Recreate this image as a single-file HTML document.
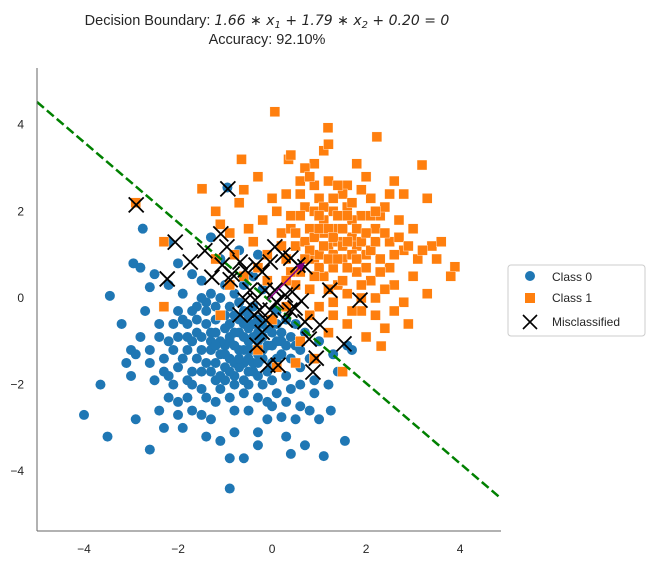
<!DOCTYPE html>
<html><head><meta charset="utf-8"><style>
body{margin:0;background:#fff;font-family:"Liberation Sans",sans-serif}
svg text{font-family:"Liberation Sans",sans-serif;fill:#262626}
</style></head><body>
<svg id="chart" width="646" height="565" xmlns="http://www.w3.org/2000/svg">
<text x="267" y="25" text-anchor="middle" font-size="14.5">Decision Boundary: <tspan font-family="DejaVu Sans" font-style="italic" font-size="14">1.66 ∗ x</tspan><tspan font-family="DejaVu Sans" font-size="10" dy="3" font-style="italic">1</tspan><tspan font-family="DejaVu Sans" font-size="14" dy="-3" font-style="italic"> + 1.79 ∗ x</tspan><tspan font-family="DejaVu Sans" font-size="10" dy="3" font-style="italic">2</tspan><tspan font-family="DejaVu Sans" font-size="14" dy="-3" font-style="italic"> + 0.20 = 0</tspan></text>
<text x="267" y="44" text-anchor="middle" font-size="14.5">Accuracy: 92.10%</text>
<g id="plot"></g>
<line x1="37" y1="68" x2="37" y2="531" stroke="#666" stroke-width="1"/>
<line x1="37" y1="531" x2="501" y2="531" stroke="#666" stroke-width="1"/>
<g id="ticks"></g>
<g>
<rect x="508" y="265" width="137" height="71" rx="3" fill="#fff" stroke="#ccc"/>
<circle cx="530" cy="276" r="5" fill="#1f77b4"/>
<text x="552" y="281" font-size="12">Class 0</text>
<rect x="525" y="293" width="10" height="10" fill="#ff7f0e"/>
<text x="552" y="302" font-size="12">Class 1</text>
<path d="M523,315 L537,329 M537,315 L523,329" stroke="#000" stroke-width="1.6"/>
<text x="552" y="326" font-size="12">Misclassified</text>
</g>
</svg>
<script>
const xTicks=[-4,-2,0,2,4];
const yTicks=[-4,-2,0,2,4];
const weights=[1.66,1.79];
const bias=0.20;
const class0=[[-4,-2.7],[-3.5,-3.2],[-0.9,-4.4],[-3.45,0.05],[-3.65,-2.0],[-2.75,1.6],[1.55,-3.3],[1.1,-3.65],[1.25,-2.6],[-2.95,0.8],[-2.8,0.7],[-2.5,0.55],[-2.6,0.25],[-3.2,-0.6],[-3.1,-1.5],[-3.0,-1.8],[-2.9,-2.8],[-2.6,-3.5],[-2.4,-2.6],[-2.0,-2.7],[-1.4,-3.2],[-1.1,-3.3],[-0.8,-3.1],[-0.3,-3.1],[-0.1,-2.8],[0.2,-2.75],[0.5,-2.8],[0.8,-2.6],[1.0,-2.8],[-0.6,-3.7],[-0.3,-3.4],[0.3,-3.2],[0.7,-3.4],[0.4,-3.6],[-1.8,-2.3],[-1.5,-2.7],[-0.9,-3.7],[-2.3,-1.4],[-2.2,-1.0],[-2.4,-0.6],[-2.0,-0.3],[-2.2,0.3],[-1.9,0.1],[-1.7,0.55],[-1.5,0.4],[-1.3,0.1],[-1.0,0.3],[-0.8,0.1],[-1.4,-0.3],[-1.2,-0.5],[-1.0,-0.7],[-0.8,-0.4],[-0.6,-0.6],[-0.4,-0.2],[-0.2,-0.6],[0.0,-0.8],[0.2,-1.0],[0.4,-0.9],[0.6,-1.2],[0.8,-1.4],[1.0,-1.0],[1.3,-1.3],[1.6,-1.1],[1.2,-2.0],[0.9,-1.9],[0.6,-2.0],[0.3,-1.8],[0.0,-1.5],[-0.3,-1.3],[-0.5,-1.0],[-0.7,-1.2],[-0.9,-1.0],[-1.1,-1.3],[-1.3,-1.0],[-1.6,-0.8],[-1.8,-1.2],[-2.0,-1.6],[-1.7,-1.7],[-1.4,-1.5],[-1.2,-1.9],[-1.0,-1.6],[-0.8,-1.8],[-0.6,-1.5],[-0.4,-1.7],[-0.2,-2.0],[0.1,-2.2],[-0.3,-2.3],[-0.6,-2.2],[-0.9,-2.3],[-1.2,-2.4],[-1.5,-2.1],[-1.7,-2.0],[-2.1,-2.0],[-2.5,-1.9],[-2.6,-1.2],[-2.8,-0.9],[-2.7,-0.3],[-1.9,-0.5],[-1.6,-0.2],[-1.1,0.0],[-0.6,0.3],[-0.4,0.5],[-0.2,0.2],[0.1,-0.3],[0.3,-0.5],[0.5,-0.6],[0.7,-0.8],[-0.1,-1.1],[-0.5,-0.4],[-0.7,-0.8],[-1.0,-1.1],[-1.5,-1.2],[-2.2,-2.3],[-0.5,-2.6],[0.0,-2.5],[-1.3,-2.8],[-1.9,-3.0],[-2.3,-3.0],[0.6,-2.5],[0.9,-2.2],[1.4,-1.7],[1.7,-1.2],[-0.95,2.55],[-0.7,1.1],[-1.3,1.4],[-2.2,1.3],[-1.1,0.9],[-0.3,1.0],[-1.8,-0.9],[-1.2,-0.2],[-0.7,-0.1],[-0.3,-0.8],[-0.9,-1.4],[-1.4,-0.6],[-0.4,-1.2],[-1.1,-1.8],[-0.5,-2.0],[0.2,-1.3],[-2.4,-0.9],[-3.0,-1.2],[-2.9,-1.3],[-2.0,0.8],[-1.5,-0.9],[-0.8,-2.6],[0.3,-2.4],[-1.7,-2.6],[-2.0,-2.4],
[-1.8,-0.6],[-1.7,-1.0],[-1.6,-1.4],[-1.5,-1.7],[-1.3,-1.2],[-1.3,-0.8],[-1.2,-1.5],[-1.1,-1.0],[-1.0,-0.4],[-1.0,-1.9],[-0.9,-0.6],[-0.9,-0.9],[-0.8,-1.1],[-0.8,-1.5],[-0.7,-0.5],[-0.7,-1.6],[-0.6,-0.9],[-0.6,-1.2],[-0.6,-1.9],[-0.5,-0.7],[-0.5,-1.4],[-0.4,-0.9],[-0.4,-1.5],[-0.3,-0.5],[-0.3,-1.0],[-0.3,-1.8],[-0.2,-0.9],[-0.2,-1.4],[-0.1,-0.7],[-0.1,-1.7],[0.0,-1.1],[0.0,-1.9],[0.1,-0.6],[0.1,-1.4],[0.2,-0.8],[0.3,-1.1],[0.4,-1.4],[-1.9,-1.4],[-2.1,-1.2],[-2.3,-1.7],[-2.1,-0.6],[-1.8,-1.9],[-1.4,-2.3],[-1.1,-2.1],[-0.8,-2.0],[-0.5,-1.7],[-1.6,-0.5],[-1.4,-0.1],[-1.2,-0.8],[-1.2,-1.1],[-1.0,-1.3],[-0.9,-0.2],[-0.8,-0.8],[-0.7,-1.4],[-0.6,-0.3],[-0.5,-1.2],[-0.4,-0.6],[-0.2,-1.2],[-1.5,0.0],[-1.7,-0.3],[-2.0,-0.9],[-1.3,-1.7],[-0.9,-1.7],[-0.3,-1.5],[0.1,-1.0],[0.5,-1.1],[0.6,-1.6],[-2.2,-1.8],[-2.6,-1.5],[-0.1,-2.4],[0.4,-2.1]];
const class1=[[0.06,4.3],[1.19,3.93],[2.23,3.72],[3.19,3.07],[3.89,0.72],[3.8,0.5],[-1.49,2.52],[2.32,-1.11],[-1.2,2.0],[-0.6,2.5],[-0.7,2.2],[-0.65,3.2],[-0.3,2.8],[0.35,3.2],[0.4,3.3],[1.1,3.4],[1.2,3.55],[0.9,3.1],[1.8,3.1],[2.6,2.7],[2.8,2.4],[3.3,2.3],[2.0,2.8],[1.6,2.6],[0.6,2.7],[0.0,2.3],[-0.2,1.8],[-0.4,1.3],[0.2,1.5],[0.4,1.9],[0.7,2.1],[1.0,2.3],[1.3,2.0],[1.6,2.1],[1.9,1.9],[2.2,1.6],[2.5,1.3],[2.8,1.1],[3.1,0.9],[3.4,1.2],[3.6,1.3],[3.5,0.9],[3.0,0.5],[2.6,0.3],[2.2,0.0],[1.9,-0.3],[1.6,-0.6],[2.0,-0.9],[2.4,-0.7],[2.9,-0.6],[2.5,0.7],[2.0,1.0],[1.7,1.4],[1.4,1.6],[1.1,1.8],[0.8,1.6],[0.5,1.2],[0.3,0.9],[0.6,0.6],[0.9,0.9],[1.2,1.2],[1.5,0.9],[1.8,0.6],[1.4,0.3],[1.1,0.5],[0.8,0.2],[1.0,-0.2],[1.3,-0.4],[1.6,0.1],[2.1,0.4],[2.3,1.9],[2.7,1.8],[3.0,1.6],[0.1,2.0],[-0.1,1.0],[0.7,1.3],[1.0,1.0],[1.3,0.7],[1.7,1.8],[2.1,2.3],[1.5,2.4],[0.9,2.6],[0.3,2.4],[-0.5,1.6],[-1.1,1.7],[-0.9,1.5],[1.9,2.5],[2.4,2.1],[0.5,0.3],[0.8,-0.4],[1.2,-0.8],[0.6,-1.0],[0.9,-1.4],[1.5,-1.7],[0.3,-0.2],[-0.1,0.4],[-0.3,0.7],[-0.8,1.0],[-1.2,0.9],[-2.3,1.3],[-2.9,2.2],[-2.3,-0.2],[2.8,-0.1],[3.3,0.1],[2.2,-0.4],[1.7,-0.3],[1.9,0.3],[1.2,2.7],[0.7,3.0],[1.4,1.3],[1.1,1.5],[0.4,1.6],[2.6,1.0],[2.3,0.9],[3.2,1.1],[1.8,1.2],[1.3,1.0],[0.2,1.2],[-0.6,0.5],[-0.9,0.3],[-1.1,-0.4],[0.0,-0.5],[0.5,-1.5],[0.1,-1.6],[-0.3,-1.2],
[0.5,1.5],[0.6,1.9],[0.8,1.1],[0.9,1.4],[0.9,2.0],[1.0,0.7],[1.0,1.6],[1.1,1.2],[1.1,2.1],[1.2,0.9],[1.2,1.6],[1.3,1.4],[1.3,2.3],[1.4,0.9],[1.4,1.9],[1.5,1.2],[1.5,1.6],[1.6,0.7],[1.6,1.3],[1.7,1.0],[1.7,2.2],[1.8,0.9],[1.8,1.6],[1.9,1.3],[2.0,0.7],[2.0,1.5],[2.1,1.1],[2.1,1.9],[2.2,1.3],[2.3,0.6],[2.4,1.5],[2.4,0.2],[2.7,1.4],[2.9,1.2],[0.7,0.9],[0.4,0.6],[0.6,2.4],[0.8,2.8],[1.4,2.6],[2.5,2.4],[1.2,0.2],[1.5,0.4],[1.9,0.0],[2.6,-0.3],[0.3,0.4],[0.9,0.5],[1.0,1.9],[1.6,1.9],[2.2,2.0],[1.3,-0.1]];
const misclassified=[[-2.89,2.15],[-0.94,2.52],[-2.06,1.29],[-1.74,0.83],[-2.23,0.44],[-1.09,1.48],[-1.43,1.09],[-0.96,1.18],[-1.06,0.76],[-1.28,0.48],[-0.85,0.55],[-0.68,0.83],[-0.89,0.42],[-0.57,0.65],[-0.34,0.76],[-0.21,0.6],[0.06,1.18],[0.23,0.99],[0.4,0.92],[0.55,0.76],[0.7,0.72],[-0.04,0.83],[-0.15,0.18],[0.06,0.18],[0.28,0.07],[0.43,0.14],[0.62,-0.07],[0.49,-0.23],[0.09,-0.09],[-0.26,-0.28],[-0.13,-0.51],[-0.38,-0.39],[-0.21,-0.79],[-0.32,-1.09],[-0.09,-1.55],[0.13,-1.55],[0.38,-0.28],[0.7,-0.55],[1.02,-0.62],[0.79,-0.95],[1.23,0.18],[1.87,-0.05],[1.53,-1.06],[0.94,-1.39],[0.87,-1.71],[-0.57,-0.05],[-0.68,-0.39],[-0.47,0.18],[0.28,-0.51],[-0.04,-0.28],[-0.36,-0.05]];
const arrowStart=[-0.09,-0.05];
const arrowEnd=[0.7,0.83];
const xDomain=[-5,4.87],yDomain=[-5.38,5.31];
const X=v=>37+(v-xDomain[0])/(xDomain[1]-xDomain[0])*464;
const Y=v=>531-(v-yDomain[0])/(yDomain[1]-yDomain[0])*463;
const NS="http://www.w3.org/2000/svg";
const plot=document.getElementById('plot');
function mk(tag,attrs,parent){const e=document.createElementNS(NS,tag);for(const k in attrs)e.setAttribute(k,attrs[k]);(parent||plot).appendChild(e);return e;}
class0.forEach(p=>{const c=mk('circle',{cx:X(p[0]),cy:Y(p[1]),r:5,fill:'#1f77b4'});

});
class1.forEach(p=>{const r=mk('rect',{x:X(p[0])-5,y:Y(p[1])-5,width:10,height:10,fill:'#ff7f0e',stroke:'#fff','stroke-width':0.4});

});
const lineY=x=>-(weights[0]*x+bias)/weights[1];
const bl=mk('line',{x1:X(xDomain[0]),y1:Y(lineY(xDomain[0])),x2:X(xDomain[1]),y2:Y(lineY(xDomain[1])),stroke:'#008000','stroke-width':2.5,'stroke-dasharray':'9,4'});


misclassified.forEach(p=>{const x=X(p[0]),y=Y(p[1]);const m=mk('path',{d:`M${x-7.5},${y-7.5}L${x+7.5},${y+7.5}M${x+7.5},${y-7.5}L${x-7.5},${y+7.5}`,stroke:'#000','stroke-width':1.8});

});
const ax=X(arrowStart[0]),ay=Y(arrowStart[1]),bx=X(arrowEnd[0]),by=Y(arrowEnd[1]);
const ang=Math.atan2(by-ay,bx-ax);
const ar=mk('g',{});


mk('line',{x1:ax,y1:ay,x2:bx-7*Math.cos(ang),y2:by-7*Math.sin(ang),stroke:'#800080','stroke-width':1.5},ar);
const hx=bx,hy=by,l=9,w=4;
const p1=[hx-l*Math.cos(ang)+w*Math.sin(ang),hy-l*Math.sin(ang)-w*Math.cos(ang)],p2=[hx-l*Math.cos(ang)-w*Math.sin(ang),hy-l*Math.sin(ang)+w*Math.cos(ang)];
mk('polygon',{points:`${hx},${hy} ${p1} ${p2}`,fill:'#800080'},ar);
const tk=document.getElementById('ticks');
xTicks.forEach(t=>{const e=mk('text',{x:X(t),y:553,'text-anchor':'middle','font-size':12},tk);e.textContent=t<0?'−'+(-t):t;

});
yTicks.forEach(t=>{const e=mk('text',{x:24,y:Y(t)+4,'text-anchor':'end','font-size':12},tk);e.textContent=t<0?'−'+(-t):t;

});
</script>
</body></html>
